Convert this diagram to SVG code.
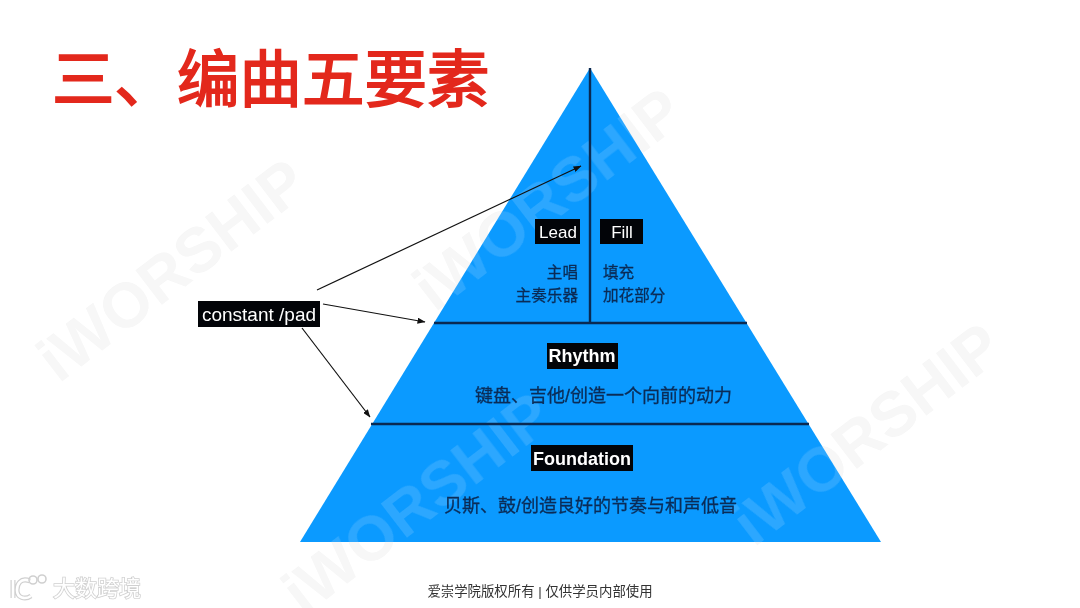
<svg xmlns="http://www.w3.org/2000/svg" width="1080" height="608" viewBox="0 0 1080 608">
<style>
text{font-family:"Liberation Sans","Noto Sans CJK SC",sans-serif}
.wm{font-size:63px;font-weight:700}
.wg{fill:#f6f6f6}
.wb{fill:#fff;opacity:.14}
.lab{fill:#fff;font-size:17px;text-anchor:middle}
.b{font-weight:700;font-size:18px}
.box{fill:#020408}
.cn{fill:#0b2c57;font-size:15.6px;stroke:#0b2c57;stroke-width:.3}
.cl{font-size:18px}
.rule{stroke:#0a2a52;stroke-width:2.4;fill:none}
.arr{stroke:#111;stroke-width:1.2;fill:none;marker-end:url(#ah)}
</style>
<defs>
<marker id="ah" markerWidth="8" markerHeight="6" refX="7.5" refY="3" orient="auto" markerUnits="userSpaceOnUse"><path d="M0 0L8 3L0 6Z" fill="#111"/></marker>
<g id="w1"><text class="wm" text-anchor="middle" transform="translate(185,287) rotate(-37.5)">iWORSHIP</text></g>
<g id="w2"><text class="wm" text-anchor="middle" transform="translate(561,216) rotate(-37.5)">iWORSHIP</text></g>
<g id="w3"><text class="wm" text-anchor="middle" transform="translate(430,520) rotate(-37.5)">iWORSHIP</text></g>
<g id="w4"><text class="wm" text-anchor="middle" transform="translate(880,451) rotate(-37.5)">iWORSHIP</text></g>
</defs>
<rect width="1080" height="608" fill="#fff"/>
<g id="watermark-under" class="wg"><use href="#w1"/><use href="#w2"/><use href="#w3"/><use href="#w4"/></g>
<g id="pyramid"><polygon points="590,68 881,542 300,542" fill="#0b9aff"/></g>
<g id="watermark-over" class="wb"><use href="#w1"/><use href="#w2"/><use href="#w3"/><use href="#w4"/></g>
<text id="title" x="52" y="102" font-size="62.5" fill="#e3281c" stroke="#e3281c" stroke-width="1.8" style="font-family:'Noto Sans CJK SC',sans-serif">三、编曲五要素</text>
<g id="connectors">
<path class="rule" d="M590 68V323M434 323H747M371 424H809"/>
<path class="arr" d="M317 290L581 166"/>
<path class="arr" d="M323 304L425 322"/>
<path class="arr" d="M302 328L370 417"/>
</g>
<g id="node-lead"><rect class="box" x="535" y="219" width="45" height="25"/><text class="lab" x="558" y="238">Lead</text>
<text class="cn" x="578" y="278" text-anchor="end">主唱</text><text class="cn" x="578" y="301" text-anchor="end">主奏乐器</text></g>
<g id="node-fill"><rect class="box" x="600" y="219" width="43" height="25"/><text class="lab" x="622" y="238">Fill</text>
<text class="cn" x="603" y="278">填充</text><text class="cn" x="603" y="301">加花部分</text></g>
<g id="node-rhythm"><rect class="box" x="547" y="343" width="71" height="26"/><text class="lab b" x="582" y="362">Rhythm</text>
<text class="cn cl" x="475" y="402">键盘、吉他/创造一个向前的动力</text></g>
<g id="node-foundation"><rect class="box" x="531" y="445" width="102" height="26"/><text class="lab b" x="582" y="465">Foundation</text>
<text class="cn cl" x="444" y="512">贝斯、鼓/创造良好的节奏与和声低音</text></g>
<g id="node-constant"><rect class="box" x="198" y="301" width="122" height="26"/><text class="lab" x="259" y="321" style="font-size:19px">constant /pad</text></g>
<text id="footer" x="540" y="596" font-size="13.4" text-anchor="middle" fill="#333">爱崇学院版权所有 | 仅供学员内部使用</text>
<g id="logo" fill="none">
<path d="M13 580V598M30 581C20 577 17 585 17 590C17 598 25 600 31 596" stroke="#d0d0d0" stroke-width="5"/>
<path d="M13 580V598M30 581C20 577 17 585 17 590C17 598 25 600 31 596" stroke="#fff" stroke-width="2.6"/>
<circle cx="33" cy="580" r="4" stroke="#d0d0d0" stroke-width="1.6"/><circle cx="42" cy="579" r="4" stroke="#d0d0d0" stroke-width="1.6"/>
<text x="53" y="596" font-size="22" fill="#fff" stroke="#d0d0d0" stroke-width="1.6" paint-order="stroke">大数跨境</text>
</g>
</svg>
